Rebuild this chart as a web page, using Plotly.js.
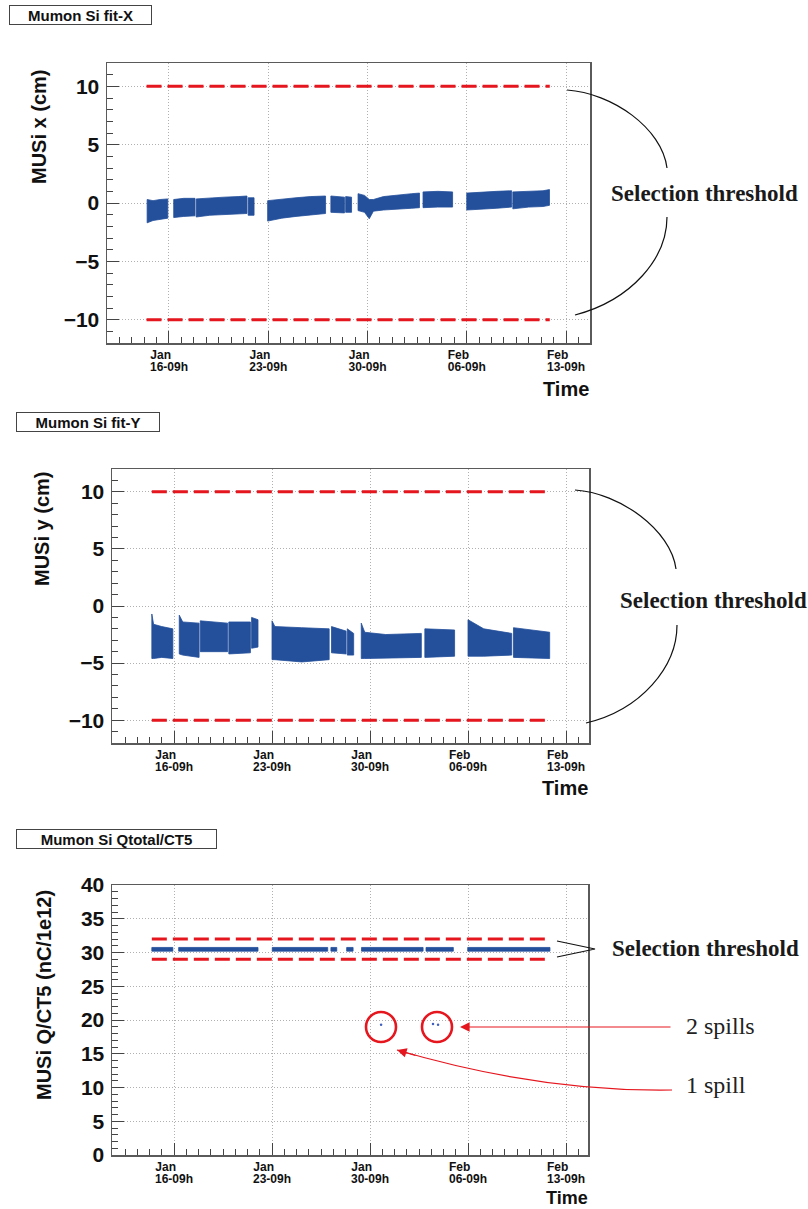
<!DOCTYPE html>
<html><head><meta charset="utf-8">
<script src="https://cdn.plot.ly/plotly-3.0.1.min.js"></script>
<style>html,body{margin:0;padding:0;background:#fff}#chart{width:808px;height:1209px}</style>
</head><body><div id="chart"></div>
<script>
// ---------------- DATA ----------------
// week ticks (time axis)
const weekTicks = ['2021-01-16 09:00','2021-01-23 09:00','2021-01-30 09:00','2021-02-06 09:00','2021-02-13 09:00'];
const weekMonth = ['Jan','Jan','Jan','Feb','Feb'];
const weekDay   = ['16-09h','23-09h','30-09h','06-09h','13-09h'];

// Panel 1 : MUSi x (cm) -- band envelope (low/high) per run segment, null = gap
const xTime = [
 '2021-01-14 20:00','2021-01-15 06:00','2021-01-15 18:00','2021-01-16 07:00', null,
 '2021-01-16 17:00','2021-01-17 10:00','2021-01-18 05:00', null,
 '2021-01-18 07:00','2021-01-19 06:00','2021-01-20 06:00','2021-01-21 06:00','2021-01-21 21:00', null,
 '2021-01-21 23:00','2021-01-22 09:00', null,
 '2021-01-23 08:00','2021-01-24 08:00','2021-01-25 08:00','2021-01-26 08:00','2021-01-27 10:00', null,
 '2021-01-27 19:00','2021-01-28 18:00', null,
 '2021-01-28 20:00','2021-01-29 06:00', null,
 '2021-01-29 17:00','2021-01-30 04:00','2021-01-30 12:00','2021-01-30 19:00','2021-01-31 12:00','2021-02-01 12:00','2021-02-02 12:00','2021-02-03 01:00', null,
 '2021-02-03 07:00','2021-02-04 08:00','2021-02-05 09:00', null,
 '2021-02-06 09:00','2021-02-07 12:00','2021-02-08 12:00','2021-02-09 13:00', null,
 '2021-02-09 15:00','2021-02-10 18:00','2021-02-11 18:00','2021-02-12 05:00'
];
const xLow = [
 -1.7,-1.5,-1.4,-1.3, null,
 -1.25,-1.15,-1.1, null,
 -1.2,-1.05,-1.0,-0.95,-0.9, null,
 -1.05,-1.05, null,
 -1.55,-1.3,-1.15,-1.0,-0.9, null,
 -0.8,-0.85, null,
 -0.8,-0.8, null,
 -0.65,-0.8,-1.35,-0.7,-0.6,-0.5,-0.45,-0.4, null,
 -0.4,-0.35,-0.35, null,
 -0.6,-0.5,-0.45,-0.35, null,
 -0.5,-0.35,-0.3,-0.2
];
const xHigh = [
 0.3,0.2,0.3,0.35, null,
 0.3,0.4,0.4, null,
 0.35,0.45,0.5,0.55,0.6, null,
 0.45,0.45, null,
 0.2,0.35,0.45,0.55,0.6, null,
 0.6,0.5, null,
 0.55,0.5, null,
 0.8,0.65,0.3,0.3,0.55,0.7,0.8,0.85, null,
 0.95,1.0,0.95, null,
 0.85,0.95,1.0,1.05, null,
 0.95,1.0,1.05,1.15
];

// Panel 2 : MUSi y (cm)
const yTime = [
 '2021-01-14 19:00','2021-01-14 22:00','2021-01-15 12:00','2021-01-16 07:00', null,
 '2021-01-16 18:00','2021-01-17 00:00','2021-01-18 04:00', null,
 '2021-01-18 06:00','2021-01-19 06:00','2021-01-20 05:00', null,
 '2021-01-20 07:00','2021-01-21 20:00', null,
 '2021-01-21 22:00','2021-01-22 09:00', null,
 '2021-01-23 09:00','2021-01-23 14:00','2021-01-25 12:00','2021-01-27 11:00', null,
 '2021-01-27 15:00','2021-01-28 16:00', null,
 '2021-01-28 18:00','2021-01-29 05:00', null,
 '2021-01-29 18:00','2021-01-30 00:00','2021-01-31 12:00','2021-02-03 01:00', null,
 '2021-02-03 07:00','2021-02-05 10:00', null,
 '2021-02-06 09:00','2021-02-07 12:00','2021-02-09 12:00', null,
 '2021-02-09 15:00','2021-02-12 05:00'
];
const yLow = [
 -4.6,-4.6,-4.5,-4.6, null,
 -4.2,-4.3,-4.5, null,
 -4.0,-4.0,-4.0, null,
 -4.2,-4.1, null,
 -3.7,-3.6, null,
 -4.7,-4.7,-4.9,-4.7, null,
 -4.1,-4.2, null,
 -4.3,-4.3, null,
 -4.6,-4.6,-4.6,-4.5, null,
 -4.5,-4.4, null,
 -4.4,-4.4,-4.3, null,
 -4.5,-4.6
];
const yHigh = [
 -0.7,-1.6,-1.8,-2.0, null,
 -0.8,-1.4,-1.5, null,
 -1.3,-1.4,-1.5, null,
 -1.4,-1.4, null,
 -1.0,-1.2, null,
 -1.3,-1.8,-1.9,-2.0, null,
 -1.8,-2.2, null,
 -2.0,-2.4, null,
 -1.5,-2.3,-2.5,-2.4, null,
 -2.0,-2.1, null,
 -1.2,-2.0,-2.4, null,
 -1.9,-2.3
];

// Panel 3 : MUSi Q/CT5 (nC/1e12)
const qTime = [
 '2021-01-14 19:00','2021-01-16 07:00', null,
 '2021-01-16 17:00','2021-01-22 09:00', null,
 '2021-01-23 09:30','2021-01-27 08:30', null,
 '2021-01-27 14:00','2021-01-28 00:00', null,
 '2021-01-28 17:00','2021-01-29 04:00', null,
 '2021-01-29 18:30','2021-02-03 04:00', null,
 '2021-02-03 09:00','2021-02-05 07:50', null,
 '2021-02-06 08:30','2021-02-12 05:30'
];
const qLow  = [30.2,30.2,null,30.2,30.2,null,30.2,30.2,null,30.2,30.2,null,30.2,30.2,null,30.2,30.2,null,30.2,30.2,null,30.2,30.2];
const qHigh = [30.75,30.75,null,30.75,30.75,null,30.75,30.75,null,30.75,30.75,null,30.75,30.75,null,30.75,30.75,null,30.75,30.75,null,30.75,30.75];
// low-charge spills
const qOutTime = ['2021-01-31 04:00','2021-02-03 21:00','2021-02-04 05:40'];
const qOutVal  = [19.3,19.4,19.3];

// selection thresholds
const threshTime = ['2021-01-14 19:00','2021-02-12 05:30'];
const xThresholds = [10,-10];
const yThresholds = [10,-10];
const qThresholds = [32,29];

// ---------------- LAYOUT HELPERS ----------------
const W = 808, H = 1209;
const SANS = 'Liberation Sans, Arial, Helvetica, sans-serif';
const SERIF = 'Liberation Serif, Times New Roman, serif';
const BLUE = '#234f9b', RED = '#e5161e';
const fx = p => p / W, fy = p => 1 - p / H;
const pt = (x, y) => fx(x) + ',' + fy(y);

function bandPolygon(t, lo, hi) {
  const X = [], Y = [];
  let seg = [];
  const flush = () => {
    if (!seg.length) return;
    seg.forEach(i => { X.push(t[i]); Y.push(hi[i]); });
    for (let k = seg.length - 1; k >= 0; k--) { X.push(t[seg[k]]); Y.push(lo[seg[k]]); }
    X.push(t[seg[0]]); Y.push(hi[seg[0]]);
    X.push(null); Y.push(null);
    seg = [];
  };
  t.forEach((v, i) => { if (v === null) flush(); else seg.push(i); });
  flush();
  return {X, Y};
}
function thresholdLines(vals) {
  const X = [], Y = [];
  vals.forEach(v => { X.push(threshTime[0], threshTime[1], null); Y.push(v, v, null); });
  return {X, Y};
}

const NB = '\u00a0';
const monthText = weekMonth.map(m => m + NB.repeat(5));

const grid = {showgrid: true, gridcolor: '#b0b0b0', gridwidth: 1, griddash: '1px,2px'};
const tickFontX = {family: SANS, size: 12, weight: 'bold', color: '#111'};
function xAxis(x0, x1, r0, r1, anchor) {
  return Object.assign({
    type: 'date', domain: [fx(x0), fx(x1)], range: [r0, r1], anchor,
    tickmode: 'array', tickvals: weekTicks, ticktext: monthText,
    ticks: 'inside', ticklen: 12, tickwidth: 1, tickcolor: '#444',
    showline: true, linecolor: '#5a5a5a', linewidth: 1.5, mirror: true,
    tickfont: tickFontX, ticklabelstandoff: 0,
    minor: {ticks: 'inside', ticklen: 6, tickwidth: 1, tickcolor: '#444',
            tick0: '2021-01-16 09:00', dtick: 21 * 3600 * 1000, showgrid: false},
    fixedrange: true
  }, grid);
}
// second label row (day-hour) on an overlaying axis with same scale
function xDayAxis(base, r0, r1, anchor) {
  return {
    type: 'date', overlaying: base, range: [r0, r1], anchor, side: 'bottom',
    tickmode: 'array', tickvals: weekTicks, ticktext: weekDay,
    ticks: '', showline: false, showgrid: false, zeroline: false,
    tickfont: tickFontX, ticklabelstandoff: 15, fixedrange: true
  };
}
function yAxis(y0, y1, range, anchor) {
  return Object.assign({
    domain: [fy(y1), fy(y0)], range, anchor,
    tickmode: 'linear', tick0: 0, dtick: 5,
    ticks: 'inside', ticklen: 12, tickwidth: 1, tickcolor: '#444',
    showline: true, linecolor: '#5a5a5a', linewidth: 1.5, mirror: true, zeroline: false,
    tickfont: {family: SANS, size: 21, weight: 'bold', color: '#111'},
    ticklabelstandoff: 2,
    minor: {ticks: 'inside', ticklen: 6, tickwidth: 1, tickcolor: '#444', tick0: 0, dtick: 1, showgrid: false},
    fixedrange: true
  }, grid);
}

// ---------------- TRACES ----------------
const traces = [];
[[xTime, xLow, xHigh, xThresholds, 'x', 'y', 'x4'],
 [yTime, yLow, yHigh, yThresholds, 'x2', 'y2', 'x5'],
 [qTime, qLow, qHigh, qThresholds, 'x3', 'y3', 'x6']].forEach(([t, lo, hi, th, xa, ya, xd]) => {
  const b = bandPolygon(t, lo, hi);
  traces.push({type: 'scatter', mode: 'lines', x: b.X, y: b.Y, fill: 'toself', fillcolor: BLUE,
               line: {color: BLUE, width: 0.8}, xaxis: xa, yaxis: ya, hoverinfo: 'skip'});
  const l = thresholdLines(th);
  traces.push({type: 'scatter', mode: 'lines', x: l.X, y: l.Y, line: {color: RED, width: 3, dash: '15px,6px'},
               xaxis: xa, yaxis: ya, hoverinfo: 'skip'});
  // invisible copy that attaches the day-label axis
  traces.push({type: 'scatter', mode: 'lines', x: threshTime, y: [th[0], th[0]], opacity: 0,
               line: {width: 0}, xaxis: xd, yaxis: ya, hoverinfo: 'skip'});
});
traces.push({type: 'scatter', mode: 'markers', x: qOutTime, y: qOutVal, marker: {color: '#4060c0', size: 2.5},
             xaxis: 'x3', yaxis: 'y3', hoverinfo: 'skip'});

// ---------------- DECORATIONS ----------------
const shapes = [];
const blackLine = {color: '#111', width: 1.2};
function bez(p0, p1, p2, p3, line) {
  shapes.push({type: 'path', xref: 'paper', yref: 'paper', line,
    path: 'M' + pt(...p0) + ' C' + pt(...p1) + ' ' + pt(...p2) + ' ' + pt(...p3)});
}
bez([567, 90], [612, 93], [662, 128], [667, 168], blackLine);
bez([667, 217], [667, 258], [632, 300], [575, 315], blackLine);
bez([575, 490], [620, 493], [671, 530], [676, 569], blackLine);
bez([677, 625], [677, 667], [641, 710], [586, 723], blackLine);
shapes.push({type: 'path', xref: 'paper', yref: 'paper', line: blackLine,
  path: 'M' + pt(557, 941) + ' L' + pt(595, 949) + ' L' + pt(557, 957)});
shapes.push({type: 'path', xref: 'paper', yref: 'paper', line: {color: RED, width: 1.2},
  path: 'M' + pt(672, 1090) + ' Q' + pt(540, 1092) + ' ' + pt(397, 1050)});
[[381, 1027], [437, 1027]].forEach(([cx, cy]) => {
  shapes.push({type: 'circle', xref: 'paper', yref: 'paper', x0: fx(cx - 15), x1: fx(cx + 15),
    y0: fy(cy + 15), y1: fy(cy - 15), line: {color: RED, width: 2.6}});
});

const annotations = [];
function label(text, x, y, font, extra) {
  annotations.push(Object.assign({text, xref: 'paper', yref: 'paper', x: fx(x), y: fy(y),
    xanchor: 'center', yanchor: 'middle', showarrow: false, font}, extra || {}));
}
const boxFont = {family: SANS, size: 15, weight: 'bold', color: '#111'};
const boxStyle = w => ({bordercolor: '#444', borderwidth: 1, borderpad: 0, bgcolor: '#fff', width: w, height: 18});
label('Mumon Si fit-X', 80.5, 15, boxFont, boxStyle(141));
label('Mumon Si fit-Y', 88, 422, boxFont, boxStyle(142));
label('Mumon Si Qtotal/CT5', 116.5, 838.5, boxFont, boxStyle(199));

const axFont = {family: SANS, size: 20, weight: 'bold', color: '#111'};
label('MUSi x (cm)', 39, 127, axFont, {textangle: -90});
label('MUSi y (cm)', 42, 529, axFont, {textangle: -90});
label('MUSi Q/CT5 (nC/1e12)', 44, 995, axFont, {textangle: -90});

const timeFont = {family: SANS, size: 20, weight: 'bold', color: '#111'};
label('Time', 590, 389, timeFont, {xanchor: 'right', borderpad: 0});
label('Time', 589, 788, timeFont, {xanchor: 'right', borderpad: 0});
label('Time', 589, 1209, Object.assign({}, timeFont, {size: 18}), {xanchor: 'right', yanchor: 'bottom', borderpad: 0});

const selFont = {family: SERIF, size: 23, weight: 'bold', color: '#1a1a1a'};
label('Selection threshold', 704, 194, selFont);
label('Selection threshold', 713, 601, selFont);
label('Selection threshold', 705, 948, selFont);

const noteFont = {family: SERIF, size: 24, color: '#222'};
label('2 spills', 720, 1026, noteFont);
label('1 spill', 716, 1085, noteFont);

annotations.push({text: '', xref: 'paper', yref: 'paper', x: fx(460), y: fy(1027), ax: 212, ay: 0,
  showarrow: true, arrowhead: 2, arrowsize: 1.6, arrowwidth: 1.2, arrowcolor: RED});
annotations.push({text: '', xref: 'paper', yref: 'paper', x: fx(397), y: fy(1050), ax: 20, ay: 6,
  showarrow: true, arrowhead: 2, arrowsize: 1.6, arrowwidth: 1.2, arrowcolor: RED});

const R1 = ['2021-01-12 00:05', '2021-02-15 01:36'];
const R2 = ['2021-01-11 22:43', '2021-02-15 00:26'];
const R3 = ['2021-01-11 22:43', '2021-02-14 22:43'];
const layout = {
  width: W, height: H, margin: {l: 0, r: 0, t: 0, b: 0},
  paper_bgcolor: '#fff', plot_bgcolor: '#fff', showlegend: false,
  xaxis:  xAxis(107, 590, R1[0], R1[1], 'y'),
  yaxis:  yAxis(63, 343, [-12, 12], 'x'),
  xaxis2: xAxis(112, 589, R2[0], R2[1], 'y2'),
  yaxis2: yAxis(469, 743, [-12, 12], 'x2'),
  xaxis3: xAxis(112, 588, R3[0], R3[1], 'y3'),
  yaxis3: yAxis(885, 1155, [0, 40], 'x3'),
  xaxis4: xDayAxis('x', R1[0], R1[1], 'y'),
  xaxis5: xDayAxis('x2', R2[0], R2[1], 'y2'),
  xaxis6: xDayAxis('x3', R3[0], R3[1], 'y3'),
  shapes, annotations
};
Plotly.newPlot('chart', traces, layout, {displayModeBar: false, staticPlot: true});
</script></body></html>
